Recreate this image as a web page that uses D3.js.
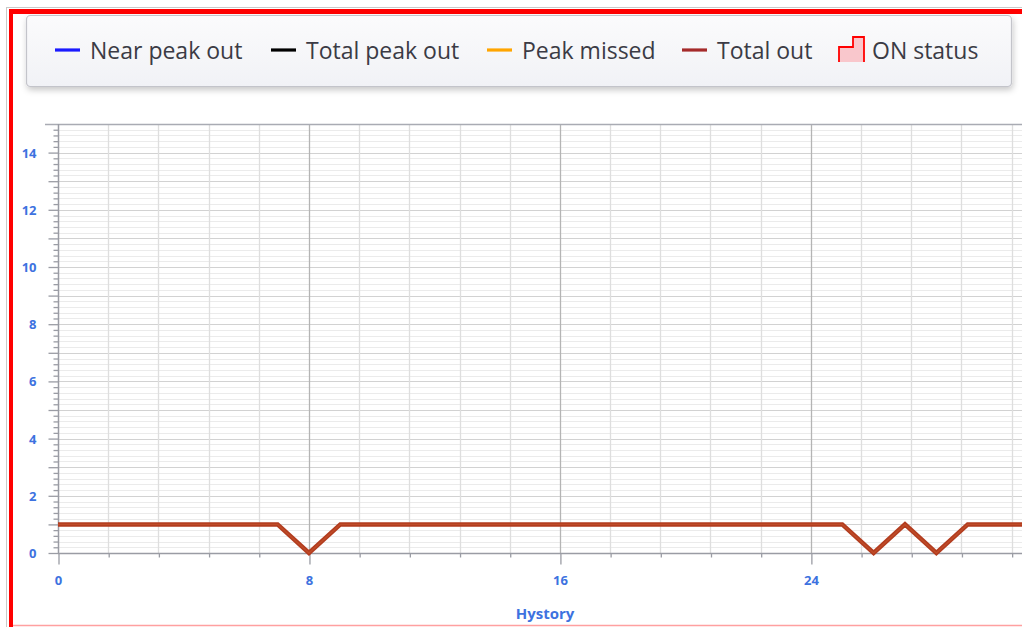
<!DOCTYPE html>
<html>
<head>
<meta charset="utf-8">
<script src="https://cdn.jsdelivr.net/npm/d3@7"></script>
<style>
  html, body { margin: 0; padding: 0; background: #fff; }
  svg { display: block; }
</style>
</head>
<body>
<svg id="chart" width="1022" height="627"></svg>
<script>
// Series data: hourly history of "Total out"
const hours = [0,1,2,3,4,5,6,7,8,9,10,11,12,13,14,15,16,17,18,19,20,21,22,23,24,25,26,27,28,29,30,31,32];
const totalOut = [1,1,1,1,1,1,1,1,0,1,1,1,1,1,1,1,1,1,1,1,1,1,1,1,1,1,0,1,0,1,1,1,1];

// Axis labelling
const xTickLabels = [0, 8, 16, 24];
const yTickLabels = [0, 2, 4, 6, 8, 10, 12, 14];
const xTitle = "Hystory";

// Legend entries
const legendNames = ["Near peak out", "Total peak out", "Peak missed", "Total out", "ON status"];
const legendColors = ["#1a1aff", "#000000", "#ffa500", "#a52a2a", "#ff0000"];
const legendX = [55, 271, 487, 682, 839];

const svg = d3.select("#chart");
const font = "'Open Sans', 'Noto Sans', sans-serif";

const defs = svg.append("defs");
const shadow = defs.append("filter").attr("id", "shadow")
  .attr("x", "-5%").attr("y", "-30%").attr("width", "110%").attr("height", "170%");
shadow.append("feDropShadow").attr("dx", 1).attr("dy", 3).attr("stdDeviation", 3)
  .attr("flood-color", "#000").attr("flood-opacity", 0.22);
const grad = defs.append("linearGradient").attr("id", "legendBg")
  .attr("x1", 0).attr("y1", 0).attr("x2", 0).attr("y2", 1);
grad.append("stop").attr("offset", "0%").attr("stop-color", "#fbfbfc");
grad.append("stop").attr("offset", "100%").attr("stop-color", "#f1f2f6");

// Window frame
svg.append("line").attr("x1", 6.5).attr("x2", 6.5).attr("y1", 7).attr("y2", 627)
  .attr("stroke", "#c9c9c9").attr("stroke-width", 1);
svg.append("line").attr("x1", 6).attr("x2", 1022).attr("y1", 7.5).attr("y2", 7.5)
  .attr("stroke", "#c9c9c9").attr("stroke-width", 1);
svg.append("line").attr("x1", 11).attr("x2", 11).attr("y1", 9).attr("y2", 627)
  .attr("stroke", "#ff0000").attr("stroke-width", 4);
svg.append("line").attr("x1", 9).attr("x2", 1022).attr("y1", 11.5).attr("y2", 11.5)
  .attr("stroke", "#ff0000").attr("stroke-width", 5);
svg.append("line").attr("x1", 13).attr("x2", 1022).attr("y1", 625.5).attr("y2", 625.5)
  .attr("stroke", "#ffa0a0").attr("stroke-width", 1.5);

// Scales
const x = d3.scaleLinear().domain([0, 32]).range([58, 58 + 32 * 31.37]);
const y = d3.scaleLinear().domain([0, 15]).range([553, 124]);
const plotRight = x(32);

const plot = svg.append("g");
plot.append("rect").attr("x", 58).attr("y", 124).attr("width", plotRight - 58).attr("height", 553 - 124)
  .attr("fill", "#ffffff");

// Horizontal grid: fine lines every 0.2, stronger every 1
const fineY = d3.range(0, 15.001, 0.2).map(v => +v.toFixed(1)).filter(v => Math.abs(v - Math.round(v)) > 1e-6);
plot.append("g").selectAll("line").data(fineY).join("line")
  .attr("x1", 58).attr("x2", plotRight)
  .attr("y1", d => Math.round(y(d)) + 0.5).attr("y2", d => Math.round(y(d)) + 0.5)
  .attr("stroke", "#ebebeb").attr("stroke-width", 1);
plot.append("g").selectAll("line").data(d3.range(1, 15)).join("line")
  .attr("x1", 58).attr("x2", plotRight)
  .attr("y1", d => Math.round(y(d)) + 0.5).attr("y2", d => Math.round(y(d)) + 0.5)
  .attr("stroke", "#d2d2d2").attr("stroke-width", 1.2);

// Vertical grid: minor every 1.6, major every 8
const minorX = d3.range(0, 32.01, 1.6).map(v => +v.toFixed(1)).filter(v => v % 8 !== 0);
plot.append("g").selectAll("line").data(minorX).join("line")
  .attr("y1", 124).attr("y2", 553)
  .attr("x1", d => Math.round(x(d)) + 0.5).attr("x2", d => Math.round(x(d)) + 0.5)
  .attr("stroke", "#dedede").attr("stroke-width", 1.3);
plot.append("g").selectAll("line").data([8, 16, 24, 32]).join("line")
  .attr("y1", 124).attr("y2", 553)
  .attr("x1", d => Math.round(x(d)) + 0.5).attr("x2", d => Math.round(x(d)) + 0.5)
  .attr("stroke", "#b4b4b4").attr("stroke-width", 1.3);

// Top border of plot
plot.append("line").attr("x1", 45).attr("x2", plotRight).attr("y1", 124.5).attr("y2", 124.5)
  .attr("stroke", "#a9abb3").attr("stroke-width", 1.5);

// Y axis: minor ticks every 0.2, major every 1, labels every 2
const yAxisMinor = d3.axisLeft(y).tickValues(fineY).tickSize(5).tickFormat("");
const yAxisMajor = d3.axisLeft(y).tickValues(d3.range(0, 15)).tickSize(10)
  .tickFormat(d => yTickLabels.includes(d) ? d : "");
const gyMinor = svg.append("g").attr("transform", "translate(58.5,0)").call(yAxisMinor);
const gy = svg.append("g").attr("transform", "translate(58.5,0)").call(yAxisMajor);
[gyMinor, gy].forEach(g => {
  g.select(".domain").remove();
  g.selectAll(".tick line").attr("stroke", "#9a9ca4").attr("stroke-width", 1.3);
});
gy.selectAll(".tick text")
  .attr("x", -22).attr("dy", "0.35em")
  .attr("fill", "#3d72e0").style("font-family", font).style("font-size", "13px").style("font-weight", "bold");
svg.append("line").attr("x1", 58.5).attr("x2", 58.5).attr("y1", 124).attr("y2", 553)
  .attr("stroke", "#9a9ca4").attr("stroke-width", 1.5);

// X axis: minor ticks every 1.6, major every 8
const xAxisMinor = d3.axisBottom(x).tickValues(minorX).tickSize(4).tickFormat("");
const xAxisMajor = d3.axisBottom(x).tickValues([0, 8, 16, 24, 32]).tickSize(11)
  .tickFormat(d => xTickLabels.includes(d) ? d : "");
const gxMinor = svg.append("g").attr("transform", "translate(0,553.5)").call(xAxisMinor);
const gx = svg.append("g").attr("transform", "translate(0,553.5)").call(xAxisMajor);
[gxMinor, gx].forEach(g => {
  g.select(".domain").remove();
  g.selectAll(".tick line").attr("stroke", "#9a9ca4").attr("stroke-width", 1.3)
    .attr("transform", "translate(0.5,0)");
});
gx.selectAll(".tick text")
  .attr("y", 27).attr("dy", "0.35em")
  .attr("fill", "#3d72e0").style("font-family", font).style("font-size", "13px").style("font-weight", "bold");
svg.append("line").attr("x1", 58).attr("x2", plotRight).attr("y1", 553.5).attr("y2", 553.5)
  .attr("stroke", "#9a9ca4").attr("stroke-width", 1.5);

svg.append("text").attr("x", 545).attr("y", 614).attr("dy", "0.35em").attr("text-anchor", "middle")
  .attr("fill", "#3d72e0").style("font-family", font).style("font-size", "15px").style("font-weight", "bold")
  .text(xTitle);

// Total out series
const line = d3.line().x((d, i) => x(hours[i])).y(d => y(d));
svg.append("path").datum(totalOut).attr("d", line)
  .attr("fill", "none").attr("stroke", "#b23c1f").attr("stroke-width", 4.5)
  .attr("stroke-linejoin", "miter");
svg.append("path").datum(totalOut).attr("d", line)
  .attr("fill", "none").attr("stroke", "#c4532c").attr("stroke-width", 1.4)
  .attr("stroke-opacity", 0.7);

// Legend
const legend = svg.append("g");
legend.append("rect").attr("x", 26.5).attr("y", 15.5).attr("width", 985).attr("height", 71)
  .attr("rx", 4).attr("fill", "url(#legendBg)").attr("stroke", "#c3c4ca").attr("stroke-width", 1.2)
  .attr("filter", "url(#shadow)");

legendNames.forEach((name, i) => {
  const lx = legendX[i];
  if (i < 4) {
    legend.append("line").attr("x1", lx).attr("x2", lx + 25).attr("y1", 50).attr("y2", 50)
      .attr("stroke", legendColors[i]).attr("stroke-width", 3.2);
  } else {
    const pts = [[lx, 62], [lx, 47], [lx + 14, 47], [lx + 14, 37], [lx + 25, 37], [lx + 25, 62]];
    legend.append("path").attr("d", "M" + pts.map(p => p.join(",")).join("L") + "Z")
      .attr("fill", "#f9c7cc").attr("stroke", "none");
    legend.append("path").attr("d", "M" + pts.map(p => p.join(",")).join("L"))
      .attr("fill", "none").attr("stroke", legendColors[i]).attr("stroke-width", 1.8);
  }
  legend.append("text").attr("x", lx + (i < 4 ? 35 : 33)).attr("y", 51).attr("dy", "0.35em")
    .attr("fill", "#3b3b45").style("font-family", font).style("font-size", "23px")
    .text(name);
});
</script>
</body>
</html>
